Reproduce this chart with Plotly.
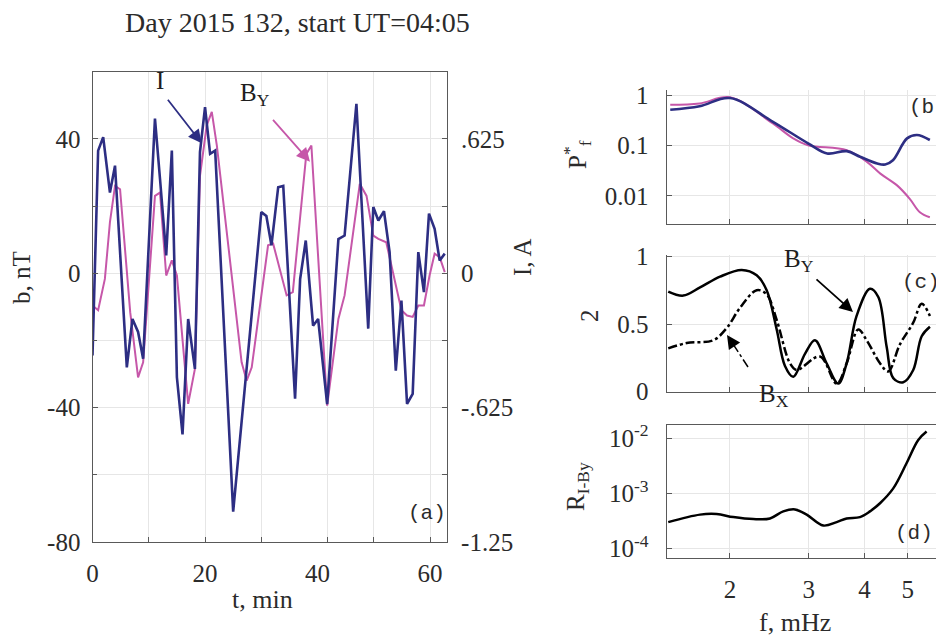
import plotly.graph_objects as go

# ---------------- panel (a): time series ----------------
t_I = [0, 1.0, 1.9, 3.1, 4.0, 6.1, 7.1, 8.1, 9.0, 11.1, 12.0, 13.1, 14.1, 15.0, 16.0,
       17.0, 18.2, 19.1, 20.0, 20.9, 21.8, 25.0, 30.0, 30.9, 31.8, 33.0, 33.9, 36.0,
       36.9, 37.9, 39.2, 40.1, 41.7, 43.7, 44.8, 46.9, 49.0, 49.9, 50.8, 51.8, 52.8,
       53.9, 54.9, 55.9, 56.9, 57.9, 58.9, 59.8, 60.8, 61.7, 62.6]
I_amp = [-0.383, 0.570, 0.633, 0.375, 0.500, -0.438, -0.213, -0.273, -0.398, 0.719,
         0.438, 0.083, 0.570, -0.484, -0.750, -0.213, -0.445, 0.563, 0.772, 0.555,
         0.570, -1.109, 0.284, 0.266, 0.130, 0.400, 0.406, -0.584, -0.027, 0.152,
         -0.244, -0.213, -0.609, 0.159, 0.175, 0.788, -0.258, 0.308, 0.245, 0.288,
         0.098, -0.453, -0.127, -0.608, -0.561, 0.098, -0.088, 0.277, 0.206, 0.059,
         0.091]

t_By = [0, 1.0, 2.2, 3.1, 4.0, 4.9, 6.7, 8.1, 9.0, 11.1, 12.0, 13.1, 14.1, 15.0, 17.0,
        18.2, 19.1, 20.3, 21.2, 22.1, 26.5, 27.4, 28.3, 31.2, 32.1, 34.5, 35.6, 38.0,
        38.9, 41.7, 43.7, 44.8, 47.5, 48.7, 49.9, 50.8, 52.2, 54.9, 55.9, 56.9, 57.9,
        58.9, 59.9, 60.8, 61.7, 62.6]
By_nT = [-9.6, -11, -1.7, 15.2, 26, 25, -11.6, -31, -26.5, 23, 24, -0.7, 3.8, -0.7,
         -38.9, -28.5, 29, 44, 48, 38, -26.5, -32, -28, 8.3, 8.8, -6.6, -5.6, 35.5, 38,
         -39.4, -13.6, -6.6, 26.6, 23, 11.2, 10.2, 9.2, -11, -12.6, -13, -9.6, -9.6,
         -0.7, 5.8, 4.8, 0.3]

# ---------------- panel (b): normalised spectra ----------------
f_P_I = [1.47, 1.71, 2.0, 2.49, 2.99, 3.30, 3.65, 3.91, 4.27, 4.45, 4.63, 4.98, 5.24, 5.6]
P_I = [0.51, 0.60, 0.87, 0.298, 0.110, 0.0692, 0.0769, 0.0594, 0.0437, 0.0417, 0.0508,
       0.138, 0.161, 0.128]
f_P_By = [1.47, 1.71, 2.0, 2.49, 2.77, 2.99, 3.65, 4.05, 4.34, 4.73, 5.05, 5.32, 5.6]
P_By = [0.64, 0.68, 0.90, 0.275, 0.138, 0.101, 0.0805, 0.0472, 0.0275, 0.0161, 0.0087,
        0.00472, 0.00375]

# ---------------- panel (c): coherence ----------------
f_coh_By = [1.455, 1.572, 1.714, 1.900, 2.125, 2.295, 2.416, 2.544, 2.655, 2.771, 2.943,
            3.098, 3.290, 3.494, 3.648, 3.840, 4.114, 4.294, 4.484, 4.638, 4.883, 5.141,
            5.370, 5.603]
coh_By = [0.74, 0.71, 0.77, 0.85, 0.90, 0.86, 0.75, 0.46, 0.19, 0.11, 0.28, 0.38, 0.21,
          0.06, 0.21, 0.56, 0.76, 0.70, 0.33, 0.10, 0.07, 0.16, 0.41, 0.48]
f_coh_Bx = [1.455, 1.600, 1.835, 1.966, 2.106, 2.295, 2.416, 2.544, 2.724, 2.820, 3.179,
            3.465, 3.648, 3.873, 4.045, 4.332, 4.520, 4.800, 5.141, 5.370, 5.603]
coh_Bx = [0.32, 0.36, 0.38, 0.47, 0.62, 0.75, 0.72, 0.53, 0.21, 0.16, 0.26, 0.06, 0.21,
          0.46, 0.38, 0.21, 0.15, 0.35, 0.51, 0.65, 0.56]

# ---------------- panel (d): ratio ----------------
f_R = [1.455, 1.714, 1.867, 2.034, 2.255, 2.458, 2.632, 2.795, 2.969, 3.234, 3.465, 3.648,
       3.907, 4.114, 4.332, 4.638, 4.970, 5.276, 5.508]
R_IBy = [3.0e-4, 4.1e-4, 4.2e-4, 3.7e-4, 3.4e-4, 3.5e-4, 4.7e-4, 5.1e-4, 4.1e-4, 2.6e-4,
         3.0e-4, 3.5e-4, 3.7e-4, 4.7e-4, 6.6e-4, 1.23e-3, 3.55e-3, 9.3e-3, 1.32e-2]

b_ticks = [-80, -40, 0, 40]
b_ticktext = ["-80", "-40", "0", "40"]
I_ticks = [-1.25, -0.625, 0, 0.625]
I_ticktext = ["-1.25", "-.625", "0", ".625"]
t_ticks = [0, 20, 40, 60]
f_ticks = [2, 3, 4, 5]

NAVY = "#2d2e83"
PINK = "#c657a9"
GRID = "#e6e6e6"
AXIS = "#595959"
TXT = "#2b2b2b"
SERIF = "Liberation Serif"
MONO = "Liberation Mono"
W, H = 936, 643


def px(x):
    return x / W


def py(y):
    return 1 - y / H


fig = go.Figure()

# panel (a)
fig.add_trace(go.Scatter(x=t_By, y=By_nT, mode="lines", line=dict(color=PINK, width=2),
                         xaxis="x", yaxis="y"))
fig.add_trace(go.Scatter(x=t_I, y=I_amp, mode="lines", line=dict(color=NAVY, width=2.6),
                         xaxis="x", yaxis="y2"))

# panel (b)
fig.add_trace(go.Scatter(x=f_P_By, y=P_By, mode="lines", line=dict(color=PINK, width=2, shape="spline"),
                         xaxis="x2", yaxis="y3"))
fig.add_trace(go.Scatter(x=f_P_I, y=P_I, mode="lines", line=dict(color=NAVY, width=2.6, shape="spline"),
                         xaxis="x2", yaxis="y3"))

# panel (c)
fig.add_trace(go.Scatter(x=f_coh_By, y=coh_By, mode="lines", line=dict(color="black", width=2.5, shape="spline"),
                         xaxis="x3", yaxis="y4"))
fig.add_trace(go.Scatter(x=f_coh_Bx, y=coh_Bx, mode="lines",
                         line=dict(color="black", width=2.5, shape="spline", dash="dashdot"),
                         xaxis="x3", yaxis="y4"))

# panel (d)
fig.add_trace(go.Scatter(x=f_R, y=R_IBy, mode="lines", line=dict(color="black", width=2.5, shape="spline"),
                         xaxis="x4", yaxis="y5"))

tickfont = dict(family=SERIF, size=25, color=TXT)

left_dom = [92.5 / W, 447 / W]
right_dom = [666.7 / W, 1.0]
f_range = [0.1594, 0.762]

common_ax = dict(showline=True, linecolor=AXIS, linewidth=1.2, ticks="inside",
                 tickcolor=AXIS, ticklen=5, tickfont=tickfont, zeroline=False,
                 gridcolor=GRID, gridwidth=1, automargin=False)

fig.update_layout(
    width=W, height=H, autosize=False,
    margin=dict(l=0, r=0, t=0, b=0, pad=0, autoexpand=False),
    paper_bgcolor="white", plot_bgcolor="white", showlegend=False,
    xaxis=dict(common_ax, domain=left_dom, range=[0, 63], anchor="y",
               tickmode="array", tickvals=t_ticks, ticks="", showgrid=False,
               mirror=True, ticklabelstandoff=9,
               minor=dict(tickmode="array", tickvals=[10, 20, 30, 41.7, 50, 60],
                          ticks="inside", ticklen=5, tickcolor=AXIS,
                          showgrid=True, gridcolor=GRID)),
    yaxis=dict(common_ax, domain=[(H - 542) / H, (H - 71.6) / H], range=[-80, 60],
               anchor="x", tickmode="array", tickvals=b_ticks, ticktext=b_ticktext,
               mirror=False, showgrid=True, ticklabelstandoff=6,
               minor=dict(tickmode="linear", tick0=-80, dtick=20, ticks="inside",
                          ticklen=4, tickcolor=AXIS, showgrid=True, gridcolor=GRID)),
    yaxis2=dict(common_ax, overlaying="y", side="right", anchor="x",
                range=[-1.25, 0.9375], showgrid=False,
                tickmode="array", tickvals=I_ticks, ticktext=I_ticktext,
                ticklabelstandoff=8,
                minor=dict(tickmode="array", tickvals=[-0.9375, -0.3125, 0.3125],
                           ticks="inside", ticklen=5, tickcolor=AXIS)),
    # panel (b)
    xaxis2=dict(common_ax, type="log", domain=right_dom, range=f_range, anchor="y3",
                tickvals=f_ticks, showticklabels=False, showgrid=True),
    yaxis3=dict(common_ax, type="log", domain=[(H - 224) / H, (H - 90) / H],
                range=[-2.56, 0.1], anchor="x2", tickvals=[0.01, 0.1, 1],
                ticktext=["0.01", "0.1", "1"], showgrid=True, ticklabelstandoff=12),
    # panel (c)
    xaxis3=dict(common_ax, type="log", domain=right_dom, range=f_range, anchor="y4",
                tickvals=f_ticks, showticklabels=False, showgrid=True),
    yaxis4=dict(common_ax, domain=[(H - 391.7) / H, (H - 255) / H], range=[0, 1.01],
                anchor="x3", tickvals=[0, 0.5, 1], ticktext=["0", "0.5", "1"],
                showgrid=True, ticklabelstandoff=12),
    # panel (d)
    xaxis4=dict(common_ax, type="log", domain=right_dom, range=f_range, anchor="y5",
                tickvals=f_ticks, ticktext=[str(v) for v in f_ticks], showgrid=True,
                mirror=True, ticklabelstandoff=9),
    yaxis5=dict(common_ax, type="log", domain=[(H - 558.3) / H, (H - 425) / H],
                range=[-4.18, -1.76], anchor="x4", tickvals=[1e-4, 1e-3, 1e-2],
                ticktext=["10<sup>-4</sup>", "10<sup>-3</sup>", "10<sup>-2</sup>"],
                showgrid=True, ticklabelstandoff=12),
)


def label(text, x, y, size=25, angle=0, family=SERIF, xanchor="center", color=TXT):
    fig.add_annotation(text=text, x=px(x), y=py(y), xref="paper", yref="paper",
                       showarrow=False, textangle=angle, xanchor=xanchor, yanchor="middle",
                       font=dict(family=family, size=size, color=color))


def arrow(head, tail, color, width=1.8, size=1.5):
    fig.add_annotation(text="", x=px(head[0]), y=py(head[1]), xref="paper", yref="paper",
                       ax=tail[0] - head[0], ay=tail[1] - head[1], axref="pixel", ayref="pixel",
                       showarrow=True, arrowhead=2, arrowsize=size, arrowwidth=width,
                       arrowcolor=color)


# titles and axis labels
label("Day 2015 132, start UT=04:05", 297.5, 22, size=28)
label("b, nT", 22, 278, angle=-90)
label("I, A", 522, 257, angle=-90)
label("t, min", 262, 599, size=26)
label("f, mHz", 795, 622, size=26)
label("P<sup>*</sup><sub>f</sub>", 577, 155, angle=-90)
label("2", 590, 316, angle=-90)
label("R<sub>I-By</sub>", 577, 487, angle=-90)

# panel tags
label("(a)", 406, 513, size=21, family=MONO, xanchor="left")
label("(b)", 907, 108, size=21, family=MONO, xanchor="left")
label("(c)", 900, 282, size=21, family=MONO, xanchor="left")
label("(d)", 893, 533, size=21, family=MONO, xanchor="left")

# series labels in (a)
label("I", 160, 80, color="#1e1e1e")
arrow((201.7, 143.3), (166.7, 98.3), NAVY)
label("B<sub>Y</sub>", 255, 95, color="#1e1e1e")
arrow((310, 161.7), (271.7, 118.3), PINK)

# series labels in (c)
label("B<sub>Y</sub>", 799, 260, color="#1e1e1e")
arrow((853, 312), (815, 278), "black")
label("B<sub>X</sub>", 774, 395, color="#1e1e1e")
fig.add_shape(type="line", xref="paper", yref="paper",
              x0=px(748), y0=py(367), x1=px(731), y1=py(341),
              line=dict(color="black", width=1.5, dash="dashdot"))
arrow((727, 335), (733, 344), "black")

fig.write_html("out.html")
